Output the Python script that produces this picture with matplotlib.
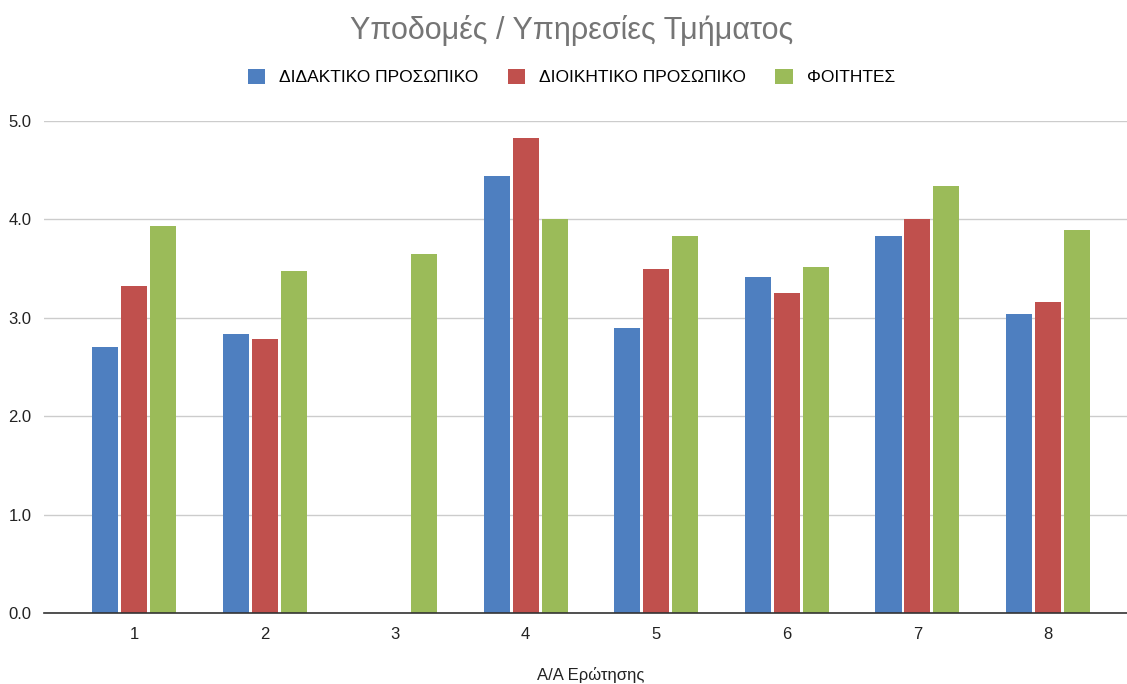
import numpy as np
import matplotlib
matplotlib.use('Agg')
import matplotlib.pyplot as plt
from matplotlib.patches import Patch

plt.rcParams['font.family'] = ['Liberation Sans', 'DejaVu Sans']

questions = ['1', '2', '3', '4', '5', '6', '7', '8']
series_names = ['ΔΙΔΑΚΤΙΚΟ ΠΡΟΣΩΠΙΚΟ', 'ΔΙΟΙΚΗΤΙΚΟ ΠΡΟΣΩΠΙΚΟ', 'ΦΟΙΤΗΤΕΣ']
didaktiko = [2.70, 2.84, 0.0, 4.44, 2.90, 3.41, 3.83, 3.04]
dioikitiko = [3.32, 2.78, 0.0, 4.83, 3.50, 3.25, 4.00, 3.16]
foitites = [3.93, 3.48, 3.65, 4.00, 3.83, 3.52, 4.34, 3.89]
colors = ['#4e7fc0', '#c0504d', '#9bbb59']

fig = plt.figure(figsize=(11.27, 6.84), dpi=100)
ax = fig.add_axes([0.039, 0.104, 0.961, 0.719])

x = np.arange(1, len(questions) + 1)
step = 0.222
for i, (vals, c) in enumerate(zip([didaktiko, dioikitiko, foitites], colors)):
    ax.bar(x + (i - 1) * step, vals, width=0.2, color=c, zorder=3)

ax.set_xlim(0.31, 8.605)
ax.set_ylim(0, 5)
ax.set_yticks(np.arange(0, 5.01, 1.0))
ax.set_yticklabels(['%.1f' % v for v in np.arange(0, 5.01, 1.0)])
ax.set_xticks(x)
ax.set_xticklabels(questions)
ax.grid(axis='y', color='#cccccc', linewidth=1.0, zorder=0)
for s in ['top', 'right', 'left']:
    ax.spines[s].set_visible(False)
ax.spines['bottom'].set_color('#333333')
ax.spines['bottom'].set_linewidth(1.2)
ax.spines['bottom'].set_zorder(4)
ax.tick_params(axis='both', length=0, labelsize=12, colors='#222222')
ax.tick_params(axis='y', pad=9)
ax.tick_params(axis='x', pad=10)

fig.text(0.524, 1 - 675 / 684, 'Α/Α Ερώτησης', fontsize=12, color='#222222',
         ha='center', va='center')

fig.text(0.507, 1 - 30 / 684, 'Υποδομές / Υπηρεσίες Τμήματος', fontsize=22,
         color='#757575', ha='center', va='center')

handles = [Patch(facecolor=c, label=n) for c, n in zip(colors, series_names)]
fig.legend(handles=handles, loc='center', bbox_to_anchor=(0.507, 1 - 77 / 684), ncol=3,
           frameon=False, fontsize=12.5, handlelength=1.0, handleheight=1.0,
           handletextpad=0.8, columnspacing=1.7)

fig.savefig('out.png', dpi=100, facecolor='white')
